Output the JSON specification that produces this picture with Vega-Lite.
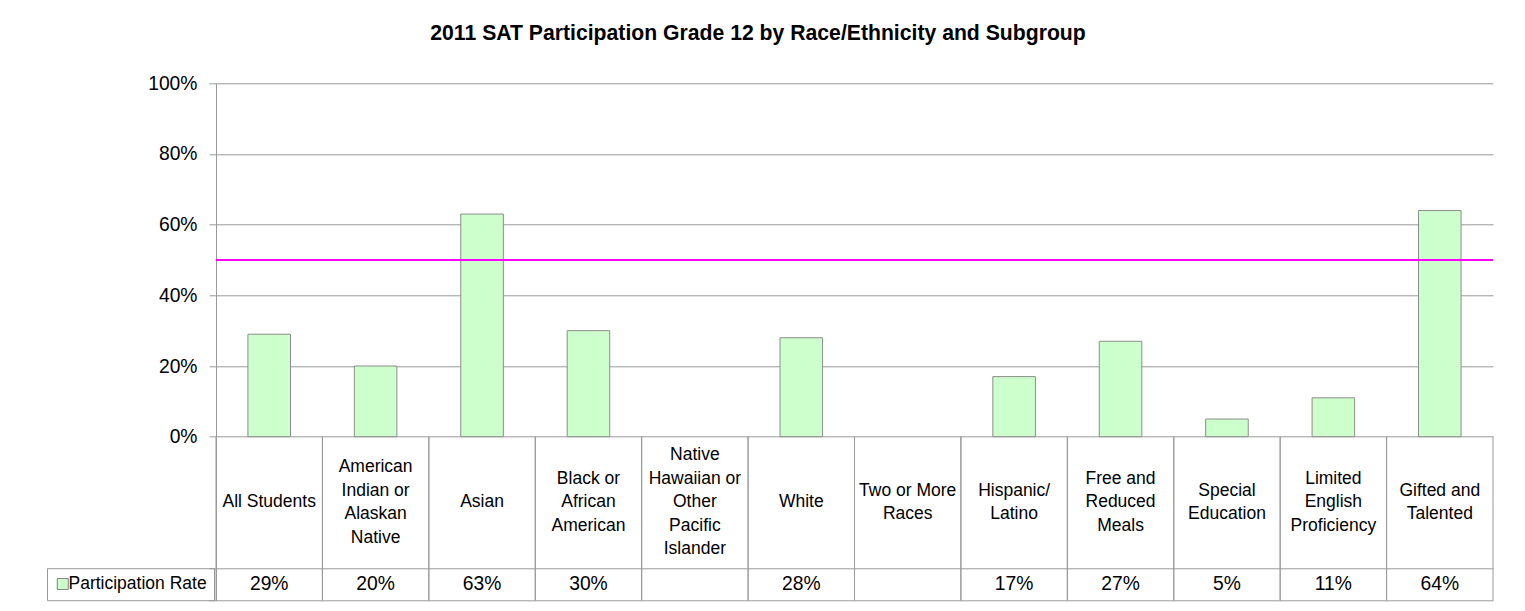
{
  "$schema": "https://vega.github.io/schema/vega-lite/v6.json",
  "width": 1277,
  "height": 517.2,
  "autosize": {"type": "none"},
  "padding": {"left": 216, "top": 83.3, "right": 32, "bottom": 10.5},
  "background": "white",
  "title": {
    "text": "2011 SAT Participation Grade 12 by Race/Ethnicity and Subgroup",
    "font": "Liberation Sans",
    "fontSize": 21.2,
    "fontWeight": "bold",
    "color": "#000000",
    "anchor": "middle",
    "dx": -96.5,
    "offset": 30
  },
  "config": {
    "view": {"stroke": null},
    "text": {"font": "Liberation Sans", "color": "#000000"}
  },
  "data": {
    "values": [
      {"label": "All Students", "value": 0.29, "series": "Participation Rate"},
      {"label": "American|Indian or|Alaskan|Native", "value": 0.20, "series": "Participation Rate"},
      {"label": "Asian", "value": 0.63, "series": "Participation Rate"},
      {"label": "Black or|African|American", "value": 0.30, "series": "Participation Rate"},
      {"label": "Native|Hawaiian or|Other|Pacific|Islander", "value": null, "series": "Participation Rate"},
      {"label": "White", "value": 0.28, "series": "Participation Rate"},
      {"label": "Two or More|Races", "value": null, "series": "Participation Rate"},
      {"label": "Hispanic/|Latino", "value": 0.17, "series": "Participation Rate"},
      {"label": "Free and|Reduced|Meals", "value": 0.27, "series": "Participation Rate"},
      {"label": "Special|Education", "value": 0.05, "series": "Participation Rate"},
      {"label": "Limited|English|Proficiency", "value": 0.11, "series": "Participation Rate"},
      {"label": "Gifted and|Talented", "value": 0.64, "series": "Participation Rate"}
    ]
  },
  "layer": [
    {
      "mark": {"type": "bar", "stroke": "#8c8c8c", "strokeWidth": 1},
      "encoding": {
        "x": {
          "field": "label",
          "type": "nominal",
          "sort": null,
          "axis": null,
          "scale": {
            "domain": ["All Students", "American|Indian or|Alaskan|Native", "Asian", "Black or|African|American", "Native|Hawaiian or|Other|Pacific|Islander", "White", "Two or More|Races", "Hispanic/|Latino", "Free and|Reduced|Meals", "Special|Education", "Limited|English|Proficiency", "Gifted and|Talented"],
            "paddingInner": 0.6,
            "paddingOuter": 0.3
          }
        },
        "y": {
          "field": "value",
          "type": "quantitative",
          "scale": {"domain": [-0.4635, 1], "nice": false, "zero": false},
          "axis": {
            "title": null,
            "values": [-0.4635, -0.3721, 0, 0.2, 0.4, 0.6, 0.8, 1],
            "labelExpr": "datum.value >= 0 ? format(datum.value, '.0%') : ''",
            "labelFont": "Liberation Sans",
            "labelFontSize": 19.3,
            "labelColor": "#000000",
            "labelPadding": 12,
            "tickSize": 7,
            "tickColor": "#999999",
            "domainColor": "#999999",
            "grid": true,
            "gridColor": "#999999",
            "gridOpacity": 1
          }
        },
        "y2": {"datum": 0},
        "color": {
          "field": "series",
          "type": "nominal",
          "scale": {"range": ["#CCFFCC"]},
          "legend": {
            "title": null,
            "orient": "none",
            "legendX": -169,
            "legendY": 484.9,
            "padding": 7,
            "strokeColor": "#999999",
            "symbolType": "square",
            "symbolSize": 121,
            "symbolStrokeColor": "#808080",
            "symbolStrokeWidth": 1,
            "labelFont": "Liberation Sans",
            "labelFontSize": 17.5,
            "labelColor": "#000000",
            "labelOffset": -3,
            "labelExpr": "datum.label + '\u00a0\u00a0'"
          }
        }
      }
    },
    {
      "mark": {"type": "rule", "color": "#FF00FF", "strokeWidth": 2},
      "encoding": {"y": {"datum": 0.5}}
    },
    {
      "mark": {"type": "rule", "color": "#999999", "strokeWidth": 1},
      "encoding": {
        "x": {"field": "label", "type": "nominal", "sort": null, "bandPosition": -0.75},
        "y": {"datum": 0},
        "y2": {"datum": -0.4635}
      }
    },
    {
      "mark": {"type": "rule", "color": "#999999", "strokeWidth": 1},
      "encoding": {
        "x": {"field": "label", "type": "nominal", "sort": null, "bandPosition": 1.75},
        "y": {"datum": 0},
        "y2": {"datum": -0.4635}
      }
    },
    {
      "transform": [{"filter": "length(split(datum.label, '|')) == 1"}],
      "mark": {"type": "text", "fontSize": 17.5, "lineBreak": "|", "lineHeight": 23.5, "baseline": "middle", "align": "center", "dy": 0},
      "encoding": {
        "x": {"field": "label", "type": "nominal", "sort": null},
        "text": {"field": "label", "type": "nominal"},
        "y": {"datum": -0.186}
      }
    },
    {
      "transform": [{"filter": "length(split(datum.label, '|')) == 2"}],
      "mark": {"type": "text", "fontSize": 17.5, "lineBreak": "|", "lineHeight": 23.5, "baseline": "middle", "align": "center", "dy": -11.75},
      "encoding": {
        "x": {"field": "label", "type": "nominal", "sort": null},
        "text": {"field": "label", "type": "nominal"},
        "y": {"datum": -0.186}
      }
    },
    {
      "transform": [{"filter": "length(split(datum.label, '|')) == 3"}],
      "mark": {"type": "text", "fontSize": 17.5, "lineBreak": "|", "lineHeight": 23.5, "baseline": "middle", "align": "center", "dy": -23.5},
      "encoding": {
        "x": {"field": "label", "type": "nominal", "sort": null},
        "text": {"field": "label", "type": "nominal"},
        "y": {"datum": -0.186}
      }
    },
    {
      "transform": [{"filter": "length(split(datum.label, '|')) == 4"}],
      "mark": {"type": "text", "fontSize": 17.5, "lineBreak": "|", "lineHeight": 23.5, "baseline": "middle", "align": "center", "dy": -35.25},
      "encoding": {
        "x": {"field": "label", "type": "nominal", "sort": null},
        "text": {"field": "label", "type": "nominal"},
        "y": {"datum": -0.186}
      }
    },
    {
      "transform": [{"filter": "length(split(datum.label, '|')) == 5"}],
      "mark": {"type": "text", "fontSize": 17.5, "lineBreak": "|", "lineHeight": 23.5, "baseline": "middle", "align": "center", "dy": -47},
      "encoding": {
        "x": {"field": "label", "type": "nominal", "sort": null},
        "text": {"field": "label", "type": "nominal"},
        "y": {"datum": -0.186}
      }
    },
    {
      "transform": [{"filter": "datum.value != null"}],
      "mark": {"type": "text", "fontSize": 19.3, "baseline": "middle", "align": "center"},
      "encoding": {
        "x": {"field": "label", "type": "nominal", "sort": null},
        "text": {"field": "value", "type": "quantitative", "format": ".0%"},
        "y": {"datum": -0.418}
      }
    }
  ]
}
